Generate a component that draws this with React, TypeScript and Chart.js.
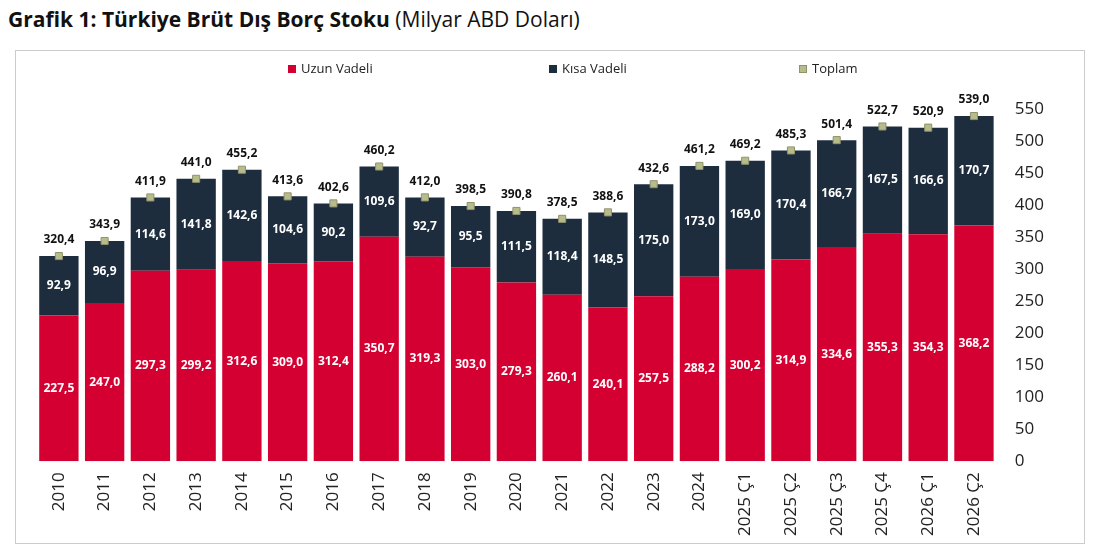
import React, { useEffect, useRef } from "react";
import { Chart, registerables } from "chart.js";
Chart.register(...registerables);

const categories = ["2010","2011","2012","2013","2014","2015","2016","2017","2018","2019","2020","2021","2022","2023","2024","2025 Ç1","2025 Ç2","2025 Ç3","2025 Ç4","2026 Ç1","2026 Ç2"];
const longTerm = [227.5,247.0,297.3,299.2,312.6,309.0,312.4,350.7,319.3,303.0,279.3,260.1,240.1,257.5,288.2,300.2,314.9,334.6,355.3,354.3,368.2];
const shortTerm = [92.9,96.9,114.6,141.8,142.6,104.6,90.2,109.6,92.7,95.5,111.5,118.4,148.5,175.0,173.0,169.0,170.4,166.7,167.5,166.6,170.7];
const totals = [320.4,343.9,411.9,441.0,455.2,413.6,402.6,460.2,412.0,398.5,390.8,378.5,388.6,432.6,461.2,469.2,485.3,501.4,522.7,520.9,539.0];

const fmt = (v: number) => v.toFixed(1).replace(".", ",");
const FONT = "'Open Sans', sans-serif";
const legendItems = [
  { text: "Uzun Vadeli", fill: "#d50032", stroke: "#d50032", x: 272 },
  { text: "Kısa Vadeli", fill: "#1d2d3e", stroke: "#1d2d3e", x: 533 },
  { text: "Toplam", fill: "#b8bc8c", stroke: "#8f936a", x: 783 },
];

const labelPlugin = {
  id: "labels",
  afterDatasetsDraw(chart: any) {
    const ctx = chart.ctx;
    ctx.save();
    ctx.textAlign = "center";
    ctx.textBaseline = "middle";
    [0, 1].forEach((di) => {
      const meta = chart.getDatasetMeta(di);
      meta.data.forEach((el: any, i: number) => {
        const v = chart.data.datasets[di].data[i];
        ctx.fillStyle = "#fff";
        ctx.font = `bold 12px ${FONT}`;
        ctx.fillText(fmt(v), el.x, (el.y + el.base) / 2);
      });
    });
    const meta = chart.getDatasetMeta(2);
    meta.data.forEach((el: any, i: number) => {
      ctx.fillStyle = "#111";
      ctx.font = `bold 12px ${FONT}`;
      ctx.fillText(fmt(totals[i]), el.x, el.y - 16);
    });
    // legend
    ctx.textAlign = "left";
    ctx.font = `13px ${FONT}`;
    legendItems.forEach((it) => {
      ctx.fillStyle = it.fill;
      ctx.strokeStyle = it.stroke;
      ctx.fillRect(it.x, 14, 8, 8);
      ctx.strokeRect(it.x + 0.5, 14.5, 7, 7);
      ctx.fillStyle = "#222";
      ctx.fillText(it.text, it.x + 13, 18);
    });
    ctx.restore();
  },
};

export default function App() {
  const ref = useRef<HTMLCanvasElement>(null);
  useEffect(() => {
    const chart = new Chart(ref.current!, {
      type: "bar",
      data: {
        labels: categories,
        datasets: [
          { label: "Uzun Vadeli", data: longTerm, backgroundColor: "#d50032", stack: "s", order: 2 },
          { label: "Kısa Vadeli", data: shortTerm, backgroundColor: "#1d2d3e", stack: "s", order: 2 },
          {
            type: "line", label: "Toplam", data: totals, showLine: false, order: 1,
            pointStyle: "rect", pointRadius: 5, backgroundColor: "#b8bc8c", borderColor: "#8f936a", borderWidth: 1,
          } as any,
        ],
      },
      options: {
        animation: false,
        responsive: false,
        maintainAspectRatio: false,
        datasets: { bar: { categoryPercentage: 0.86, barPercentage: 1 } },
        layout: { padding: { top: 58, left: 20, right: 30, bottom: 4 } },
        plugins: { tooltip: { enabled: false }, legend: { display: false } },
        scales: {
          x: {
            stacked: true,
            grid: { display: false },
            border: { display: false },
            ticks: { minRotation: 90, maxRotation: 90, font: { family: FONT, size: 17 }, color: "#222" },
          },
          y: {
            stacked: true, position: "right", min: 0, max: 550,
            grid: { display: false },
            border: { display: false },
            ticks: { stepSize: 50, autoSkip: false, font: { family: FONT, size: 17 }, color: "#222", padding: 10 },
          },
        },
      },
      plugins: [labelPlugin],
    });
    return () => chart.destroy();
  }, []);
  return (
    <div style={{ fontFamily: FONT, color: "#111" }}>
      <div style={{ fontSize: 21, height: 40, lineHeight: "22px" }}>
        <b>Grafik 1: Türkiye Brüt Dış Borç Stoku</b> (Milyar ABD Doları)
      </div>
      <div style={{ position: "absolute", left: 15, top: 50, width: 1070, height: 494, border: "1px solid #ccc", boxSizing: "border-box" }}>
        <canvas ref={ref} width={1068} height={492} style={{ display: "block" }} />
      </div>
    </div>
  );
}
